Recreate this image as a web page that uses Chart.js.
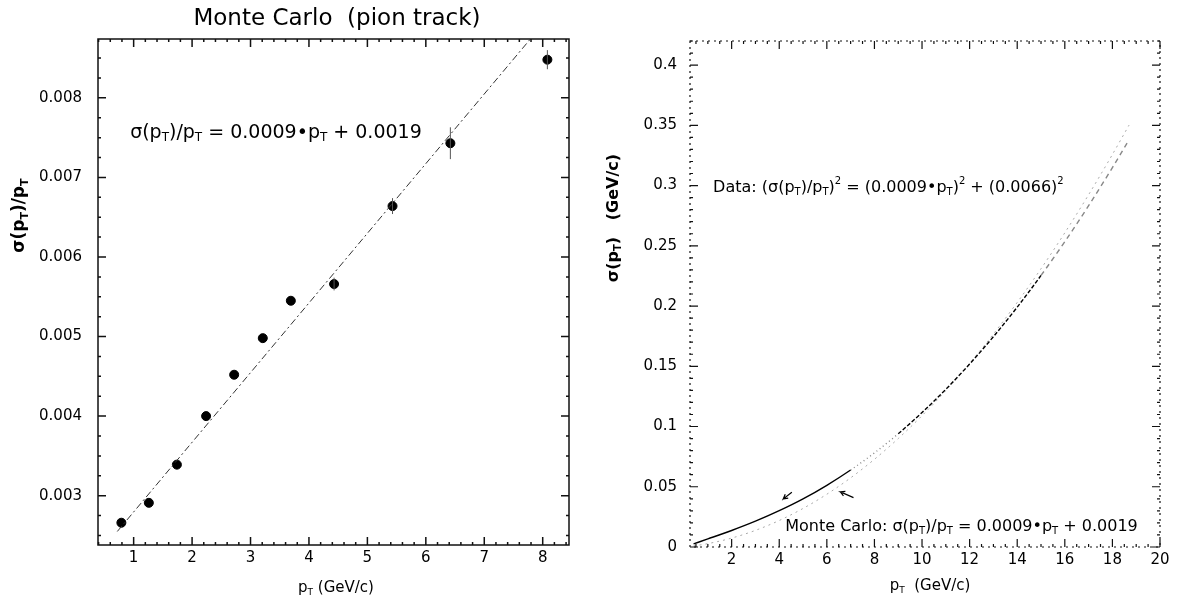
<!DOCTYPE html>
<html>
<head>
<meta charset="utf-8">
<script src="https://cdn.jsdelivr.net/npm/chart.js@4.4.0/dist/chart.umd.min.js"></script>
<style>
body { margin: 0; background: #fff; }
#wrap { position: relative; width: 1178px; height: 603px; }
.box { position: absolute; top: 0; height: 603px; }
#leftBox { left: 0; width: 600px; }
#rightBox { left: 600px; width: 578px; }
</style>
</head>
<body>
<div id="wrap">
    <div class="box" id="leftBox"><canvas id="left"></canvas></div>
    <div class="box" id="rightBox"><canvas id="right"></canvas></div>
</div>
<script>
// left panel: Monte Carlo pion track resolution
const mcPt = [0.79, 1.26, 1.74, 2.24, 2.72, 3.21, 3.69, 4.43, 5.43, 6.42, 8.08];
const mcRes = [0.00266, 0.00291, 0.00339, 0.00400, 0.00452, 0.00498, 0.00545, 0.00566, 0.00664, 0.00743, 0.00848];
const mcErr = [0, 0, 0, 0, 0, 0, 0, 0.00008, 0.0001, 0.0002, 0.00012];
const fitPt = [0.72, 8.6];
const fitRes = [0.00255, 0.00945];
const leftXTicks = [1, 2, 3, 4, 5, 6, 7, 8];
const leftYTicks = [0.003, 0.004, 0.005, 0.006, 0.007, 0.008];

// right panel: sigma(pT) curves
const curvePt = [0.4, 1, 2, 3, 4, 5, 6, 7, 8, 9, 10, 11, 12, 13, 14, 15, 16, 17, 18, 18.7];
const dataSigma = [0.0026, 0.0067, 0.0137, 0.0214, 0.0301, 0.0399, 0.0512, 0.0639, 0.0781, 0.0940,
    0.1116, 0.1309, 0.1519, 0.1746, 0.1991, 0.2254, 0.2534, 0.2833, 0.3149, 0.3381];
const mcSigma = [0.0009, 0.0028, 0.0074, 0.0138, 0.0220, 0.0320, 0.0438, 0.0574, 0.0728, 0.0900,
    0.1090, 0.1298, 0.1524, 0.1768, 0.2030, 0.2310, 0.2608, 0.2924, 0.3258, 0.3502];
const rightXTicks = [2, 4, 6, 8, 10, 12, 14, 16, 18, 20];
const rightYTicks = [0, 0.05, 0.1, 0.15, 0.2, 0.25, 0.3, 0.35, 0.4];

const INK = "#000";
const FONT = "DejaVu Sans";

function pts(xs, ys) {
    return xs.map((x, i) => ({ x: x, y: ys[i] }));
}

// text with sub/superscripts, parts = [[text, kind], ...]
function rich(ctx, parts, x, y, size, opts) {
    opts = opts || {};
    const weight = opts.weight || "normal";
    const fontFor = k => `${weight} ${k ? Math.round(size * 0.62) : size}px "${FONT}"`;
    let w = 0;
    parts.forEach(p => { ctx.font = fontFor(p[1]); w += ctx.measureText(p[0]).width; });
    let cx = opts.align === "center" ? x - w / 2 : x;
    ctx.fillStyle = INK;
    ctx.textBaseline = "middle";
    ctx.textAlign = "left";
    parts.forEach(p => {
        ctx.font = fontFor(p[1]);
        let dy = 0;
        if (p[1] === "sub") dy = size * 0.28;
        if (p[1] === "sup") dy = -size * 0.38;
        ctx.fillText(p[0], cx, y + dy);
        cx += ctx.measureText(p[0]).width;
    });
}

function drawFrame(chart, o) {
    const { ctx, chartArea: a } = chart;
    const xs = chart.scales.x, ys = chart.scales.y;
    ctx.save();
    ctx.strokeStyle = "#111";
    ctx.lineWidth = o.lw;
    ctx.setLineDash(o.dash || []);
    ctx.strokeRect(a.left, a.top, a.right - a.left, a.bottom - a.top);
    ctx.setLineDash([]);
    ctx.beginPath();
    const seg = (px, py, dx, dy) => { ctx.moveTo(px, py); ctx.lineTo(px + dx, py + dy); };
    xs.ticks.forEach(t => {
        const p = xs.getPixelForValue(t.value);
        if (p > a.right + 0.5) return;
        seg(p, a.bottom, 0, -o.major);
        seg(p, a.top, 0, o.major);
    });
    ys.ticks.forEach(t => {
        const p = ys.getPixelForValue(t.value);
        seg(a.left, p, o.major, 0);
        seg(a.right, p, -o.major, 0);
    });
    for (let i = Math.ceil(xs.min / o.xMinor); i * o.xMinor <= xs.max; i++) {
        const p = xs.getPixelForValue(i * o.xMinor);
        seg(p, a.bottom, 0, -o.minor);
        seg(p, a.top, 0, o.minor);
    }
    for (let i = Math.ceil(ys.min / o.yMinor); i * o.yMinor <= ys.max; i++) {
        const p = ys.getPixelForValue(i * o.yMinor);
        seg(a.left, p, o.minor, 0);
        seg(a.right, p, -o.minor, 0);
    }
    ctx.stroke();
    ctx.restore();
}

const tickFont = { family: FONT, size: 15 };

function axes(xMin, xMax, xTicks, yMin, yMax, yTicks, yWidth, xHeight, xPad, yPad, yFmt) {
    return {
        x: {
            type: "linear", min: xMin, max: xMax,
            afterBuildTicks: s => { s.ticks = xTicks.map(v => ({ value: v })); },
            afterFit: s => { s.height = xHeight; },
            grid: { display: false, drawTicks: false }, border: { display: false },
            ticks: { font: tickFont, color: INK, padding: xPad, maxRotation: 0, autoSkip: false, callback: v => String(v) }
        },
        y: {
            type: "linear", min: yMin, max: yMax,
            afterBuildTicks: s => { s.ticks = yTicks.map(v => ({ value: v })); },
            afterFit: s => { s.width = yWidth; },
            grid: { display: false, drawTicks: false }, border: { display: false },
            ticks: { font: tickFont, color: INK, padding: yPad, autoSkip: false, callback: yFmt }
        }
    };
}

const leftDecor = {
    id: "leftDecor",
    afterDatasetsDraw(chart) {
        const { ctx } = chart;
        const xs = chart.scales.x, ys = chart.scales.y;
        // error bars
        ctx.save();
        ctx.strokeStyle = "#555";
        ctx.lineWidth = 1;
        ctx.beginPath();
        mcPt.forEach((p, i) => {
            if (!mcErr[i]) return;
            const px = xs.getPixelForValue(p);
            ctx.moveTo(px, ys.getPixelForValue(mcRes[i] - mcErr[i]));
            ctx.lineTo(px, ys.getPixelForValue(mcRes[i] + mcErr[i]));
        });
        ctx.stroke();
        ctx.restore();
    },
    afterDraw(chart) {
        const { ctx, chartArea: a } = chart;
        const xs = chart.scales.x, ys = chart.scales.y;
        drawFrame(chart, { lw: 1.5, major: 8, minor: 3, xMinor: 0.2, yMinor: 0.00025 });
        ctx.save();
        rich(ctx, [["Monte Carlo  (pion track)", ""]], 337, 19, 23, { align: "center" });
        rich(ctx, [["σ(p", ""], ["T", "sub"], [")/p", ""], ["T", "sub"], [" = 0.0009•p", ""], ["T", "sub"], [" + 0.0019", ""]],
            xs.getPixelForValue(0.94), ys.getPixelForValue(0.00756), 19);
        rich(ctx, [["p", ""], ["T", "sub"], [" (GeV/c)", ""]], 336, 588, 15, { align: "center" });
        ctx.translate(20, ys.getPixelForValue(0.00652));
        ctx.rotate(-Math.PI / 2);
        rich(ctx, [["σ(p", ""], ["T", "sub"], [")/p", ""], ["T", "sub"]], 0, 0, 17, { align: "center", weight: "bold" });
        ctx.restore();
    }
};

const rightArrows = [
    { from: [4.53, 0.0455], to: [4.17, 0.0399] },
    { from: [7.12, 0.0410], to: [6.57, 0.0458] }
];

const rightDecor = {
    id: "rightDecor",
    afterDraw(chart) {
        const { ctx, chartArea: a } = chart;
        const xs = chart.scales.x, ys = chart.scales.y;
        drawFrame(chart, { lw: 1.2, dash: [2, 4], major: 8, minor: 3, xMinor: 0.5, yMinor: 0.01 });
        ctx.save();
        ctx.strokeStyle = INK;
        ctx.lineWidth = 1.2;
        rightArrows.forEach(ar => {
            const x0 = xs.getPixelForValue(ar.from[0]), y0 = ys.getPixelForValue(ar.from[1]);
            const x1 = xs.getPixelForValue(ar.to[0]), y1 = ys.getPixelForValue(ar.to[1]);
            const ang = Math.atan2(y1 - y0, x1 - x0);
            ctx.beginPath();
            ctx.moveTo(x0, y0); ctx.lineTo(x1, y1);
            ctx.lineTo(x1 - 5 * Math.cos(ang - 0.5), y1 - 5 * Math.sin(ang - 0.5));
            ctx.moveTo(x1, y1);
            ctx.lineTo(x1 - 5 * Math.cos(ang + 0.5), y1 - 5 * Math.sin(ang + 0.5));
            ctx.stroke();
        });
        rich(ctx, [["Data: (σ(p", ""], ["T", "sub"], [")/p", ""], ["T", "sub"], [")", ""], ["2", "sup"],
            [" = (0.0009•p", ""], ["T", "sub"], [")", ""], ["2", "sup"], [" + (0.0066)", ""], ["2", "sup"]],
            xs.getPixelForValue(1.22), ys.getPixelForValue(0.298), 16);
        rich(ctx, [["Monte Carlo: σ(p", ""], ["T", "sub"], [")/p", ""], ["T", "sub"], [" = 0.0009•p", ""], ["T", "sub"], [" + 0.0019", ""]],
            xs.getPixelForValue(4.25), ys.getPixelForValue(0.0168), 16);
        rich(ctx, [["p", ""], ["T", "sub"], ["  (GeV/c)", ""]], 330, 586, 15, { align: "center" });
        ctx.translate(14, ys.getPixelForValue(0.273));
        ctx.rotate(-Math.PI / 2);
        rich(ctx, [["σ(p", ""], ["T", "sub"], [")   (GeV/c)", ""]], 0, 0, 16, { align: "center", weight: "bold" });
        ctx.restore();
    }
};

// scanned data curve changes style along its length
function dataDash(c) {
    const x = c.p0.parsed.x;
    if (x >= 15) return [5, 4];
    if (x >= 9) return [4, 2];
    if (x >= 7) return [1, 3];
    return undefined;
}
function dataColor(c) {
    const x = c.p0.parsed.x;
    if (x >= 15 || (x >= 7 && x < 9)) return "#888";
    return INK;
}

const base = {
    responsive: true,
    maintainAspectRatio: false,
    animation: false,
    plugins: { legend: { display: false }, tooltip: { enabled: false } }
};

new Chart(document.getElementById("left"), {
    type: "scatter",
    data: {
        datasets: [
            {
                data: pts(fitPt, fitRes), showLine: true, pointRadius: 0,
                borderColor: "#333", borderWidth: 1, borderDash: [7, 3, 2, 3]
            },
            {
                data: pts(mcPt, mcRes), pointRadius: 4.5,
                backgroundColor: INK, borderColor: INK, showLine: false
            }
        ]
    },
    options: Object.assign({}, base, {
        layout: { padding: { top: 39, right: 31, left: 0, bottom: 0 } },
        scales: axes(0.39, 8.45, leftXTicks, 0.00238, 0.00874, leftYTicks, 98, 58, 4, 16, v => v.toFixed(3))
    }),
    plugins: [leftDecor]
});

new Chart(document.getElementById("right"), {
    type: "scatter",
    data: {
        datasets: [
            {
                data: pts(curvePt, dataSigma), showLine: true, pointRadius: 0,
                borderColor: INK, borderWidth: 1.4, cubicInterpolationMode: "monotone",
                segment: { borderDash: dataDash, borderColor: dataColor }
            },
            {
                data: pts(curvePt, mcSigma), showLine: true, pointRadius: 0,
                borderColor: "#aaa", borderWidth: 1, borderDash: [2, 4], cubicInterpolationMode: "monotone"
            }
        ]
    },
    options: Object.assign({}, base, {
        layout: { padding: { top: 41, right: 18, left: 0, bottom: 0 } },
        scales: axes(0.25, 20, rightXTicks, 0, 0.42, rightYTicks, 90, 56, 4, 13, v => String(v))
    }),
    plugins: [rightDecor]
});
</script>
</body>
</html>
